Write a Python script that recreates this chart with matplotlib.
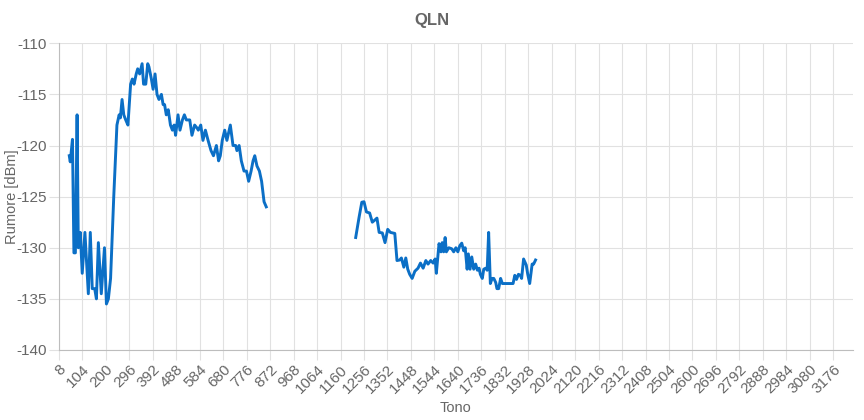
import matplotlib
matplotlib.use("Agg")
import matplotlib.pyplot as plt
import numpy as np

# QLN per tone, two bands
tones_a = [50, 54, 63, 69, 75, 82, 87, 95, 103, 114, 128, 136, 144, 154, 161, 169,
           181, 194, 202, 210, 219, 232, 245, 254, 259, 266, 273, 281, 290, 301,
           308, 315, 324, 330, 338, 348, 354, 363, 371, 376, 386, 393, 401, 409,
           417, 427, 434, 440, 447, 455, 464, 472, 479, 485, 495, 503, 513, 521,
           529, 543, 552, 563, 573, 578, 588, 597, 607, 618, 630, 640, 652, 661,
           668, 676, 686, 695, 709, 720, 731, 736, 745, 754, 765, 775, 784, 794,
           802, 809, 818, 828, 837, 847, 856]
qln_a = [-121.0, -121.6, -119.4, -130.5, -130.5, -117.0, -130.0, -128.5, -132.5,
         -128.5, -134.5, -128.5, -134.0, -134.0, -135.0, -129.5, -134.5, -130.0,
         -135.5, -135.0, -133.0, -125.0, -118.0, -117.0, -117.3, -115.5, -117.0,
         -117.5, -118.0, -114.0, -113.5, -114.0, -113.0, -112.5, -113.0, -112.0,
         -114.0, -114.0, -112.0, -112.3, -113.5, -114.5, -113.0, -115.0, -115.5,
         -115.0, -116.0, -116.0, -117.0, -116.5, -118.0, -118.5, -118.0, -119.0,
         -117.0, -118.5, -117.5, -117.0, -117.5, -117.5, -119.0, -118.0, -118.3,
         -118.5, -118.0, -119.5, -118.5, -119.5, -120.5, -121.0, -120.0, -121.5,
         -121.0, -119.5, -118.5, -119.5, -118.0, -120.0, -120.0, -120.5, -120.0,
         -121.5, -122.5, -122.5, -123.5, -122.5, -121.5, -121.0, -122.0, -122.5,
         -123.5, -125.5, -126.0]

tones_b = [1222, 1236, 1247, 1256, 1266, 1279, 1290, 1300, 1309, 1318, 1331, 1342,
           1353, 1364, 1382, 1391, 1402, 1409, 1419, 1427, 1435, 1443, 1453, 1464,
           1477, 1487, 1498, 1509, 1518, 1529, 1539, 1547, 1552, 1563, 1571, 1576,
           1582, 1588, 1593, 1603, 1615, 1623, 1632, 1640, 1648, 1656, 1664, 1670,
           1678, 1683, 1690, 1697, 1705, 1713, 1720, 1727, 1732, 1740, 1746, 1754,
           1760, 1766, 1773, 1780, 1787, 1795, 1800, 1807, 1815, 1822, 1832, 1866,
           1873, 1880, 1888, 1896, 1901, 1909, 1920, 1926, 1934, 1944, 1950, 1958]
qln_b = [-129.0, -127.0, -125.55, -125.5, -126.5, -126.6, -127.5, -127.3, -127.1,
         -128.5, -128.55, -129.5, -128.2, -128.5, -128.6, -131.25, -131.2, -131.0,
         -131.9, -131.0, -132.1, -132.6, -133.0, -132.3, -132.0, -131.5, -132.0,
         -131.25, -131.6, -131.25, -131.5, -131.1, -132.5, -129.6, -130.4, -129.5,
         -130.4, -129.0, -130.4, -130.0, -130.1, -130.4, -130.0, -130.4, -129.8,
         -129.55, -130.3, -130.0, -132.1, -130.6, -132.1, -130.9, -132.1, -131.6,
         -132.2, -132.0, -132.6, -133.0, -132.1, -132.0, -132.2, -128.5, -133.5,
         -133.0, -133.0, -133.4, -134.0, -134.0, -133.0, -133.5, -133.5, -133.5,
         -132.7, -133.1, -132.6, -132.7, -133.0, -131.1, -131.7, -132.6, -133.5,
         -131.6, -131.6, -131.2]

x_ticks = list(range(8, 3177, 96))
y_ticks = [-140, -135, -130, -125, -120, -115, -110]

text_col = "#666666"
grid_col = "#e1e1e1"
line_col = "#0b6fc6"

plt.rcParams["font.family"] = ["Liberation Sans", "DejaVu Sans"]
plt.rcParams["axes.unicode_minus"] = False

fig = plt.figure(figsize=(8.64, 4.2), dpi=100)
ax = fig.add_axes([0.0683, 0.1667, 0.9187, 0.7303])

ax.plot(tones_a, qln_a, color=line_col, lw=2.1, solid_joinstyle="round")
ax.plot(tones_b, qln_b, color=line_col, lw=2.1, solid_joinstyle="round")

ax.set_xlim(8, 3256)
ax.set_ylim(-140, -110)
ax.set_xticks(x_ticks)
ax.set_xticklabels([str(t) for t in x_ticks], rotation=45, ha="right",
                   rotation_mode="anchor")
ax.set_yticks(y_ticks)
ax.tick_params(colors=grid_col, labelcolor=text_col, labelsize=11,
               length=7, width=0.8, pad=2)
ax.grid(True, color=grid_col, lw=0.8)
ax.set_axisbelow(True)

for s in ["top", "right"]:
    ax.spines[s].set_visible(False)
ax.spines["left"].set_color("#bdbdbd")
ax.spines["bottom"].set_color("#bdbdbd")

fig.text(0.5, 0.952, "QLN", color=text_col, fontsize=12, fontweight="bold",
         ha="center", va="center")
ax.set_xlabel("Tono", color=text_col, fontsize=10.5, labelpad=3)
ax.set_ylabel("Rumore [dBm]", color=text_col, fontsize=10.5)
ax.yaxis.set_label_coords(-0.051, 0.5)

fig.savefig("out.png", dpi=100, facecolor="white")
